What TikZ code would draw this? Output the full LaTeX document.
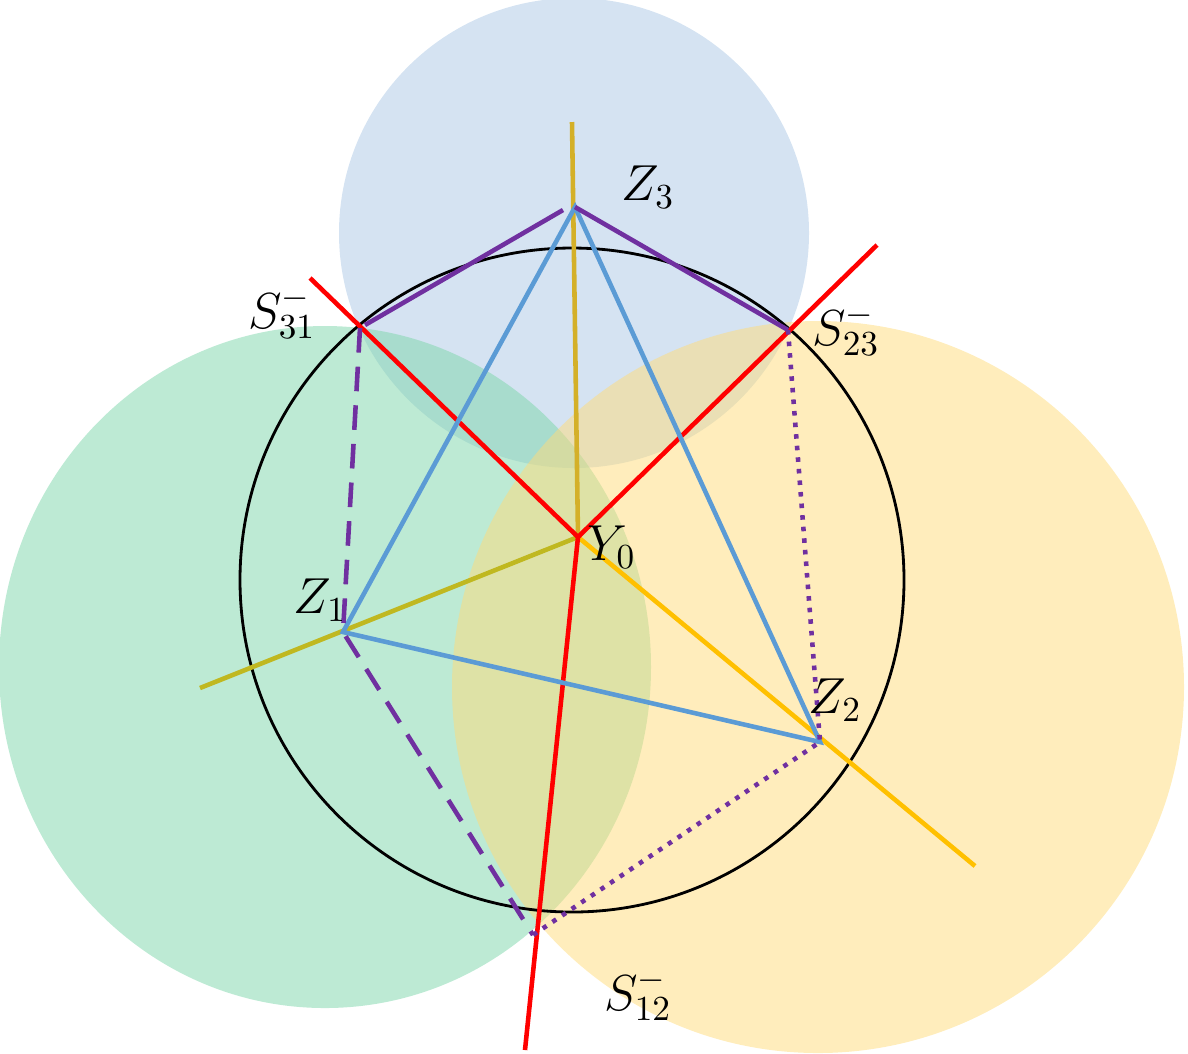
\documentclass[tikz,border=0pt]{standalone}
\usepackage{tikz}
\definecolor{cblue}{RGB}{171,199,229}
\definecolor{cgreen}{RGB}{123,213,169}
\definecolor{cyel}{RGB}{255,219,121}
\definecolor{lblue}{RGB}{91,155,213}
\definecolor{lpur}{RGB}{112,48,160}
\definecolor{lgold}{RGB}{212,176,40}
\definecolor{lolive}{RGB}{192,184,32}
\definecolor{lorange}{RGB}{255,192,0}
\tikzset{px/.style={x=0.01cm,y=-0.01cm},
 lab/.style={font=\Large},
 thk/.style={line width=1.3pt}}
\begin{document}
\begin{tikzpicture}[px]
\useasboundingbox (0,0) rectangle (1188,1053);
% circles
\fill[cblue,fill opacity=0.5] (574,233) circle (235);
\fill[cgreen,fill opacity=0.5] (325,667) ellipse (326 and 341);
\fill[cyel,fill opacity=0.5] (818,687) circle (366);
\draw[black,line width=0.8pt] (572,580) circle (332);
% lines
\coordinate (Y0) at (578,537);
\coordinate (Z3) at (575,207);
\coordinate (Z1) at (343,632);
\coordinate (Z2) at (820,742);
\coordinate (S31) at (360,328);
\coordinate (S23) at (788,330);
\coordinate (S12) at (533,935);
\coordinate (gt) at (572,122);
\coordinate (r1) at (310,278);
\coordinate (r2) at (877,245);
\coordinate (r3) at (525,1050);
\coordinate (o1) at (200,688);
\coordinate (o2) at (975,866);
\coordinate (p1) at (563,210);
\coordinate (p2) at (365,325);
\draw[thk,lgold] (gt) -- (Y0);
\draw[thk,lolive] (o1) -- (Y0);
\draw[thk,lorange] (Y0) -- (o2);
\draw[thk,red] (r1) -- (Y0) -- (r2);
\draw[thk,red] (Y0) -- (r3);
\draw[thk,lblue] (Z3) -- (Z1) -- (Z2) -- cycle;
\draw[thk,lpur] (p1) -- (p2);
\draw[thk,lpur] (Z3) -- (S23);
\draw[thk,lpur,dash pattern=on 7pt off 4pt] (S31) -- (Z1) -- (S12);
\draw[thk,lpur,dotted] (S23) -- (Z2) -- (S12);
% labels
\node[lab] (lz3) at (648,187) {$Z_3$};
\node[lab] (ls31) at (282,313) {$S_{31}^-$};
\node[lab] (ls23) at (846,330) {$S_{23}^-$};
\node[lab] (ly0) at (612,547) {$Y_0$};
\node[lab] (lz1) at (320,600) {$Z_1$};
\node[lab] (lz2) at (835,700) {$Z_2$};
\node[lab] (ls12) at (638,995) {$S_{12}^-$};
\end{tikzpicture}
\end{document}
